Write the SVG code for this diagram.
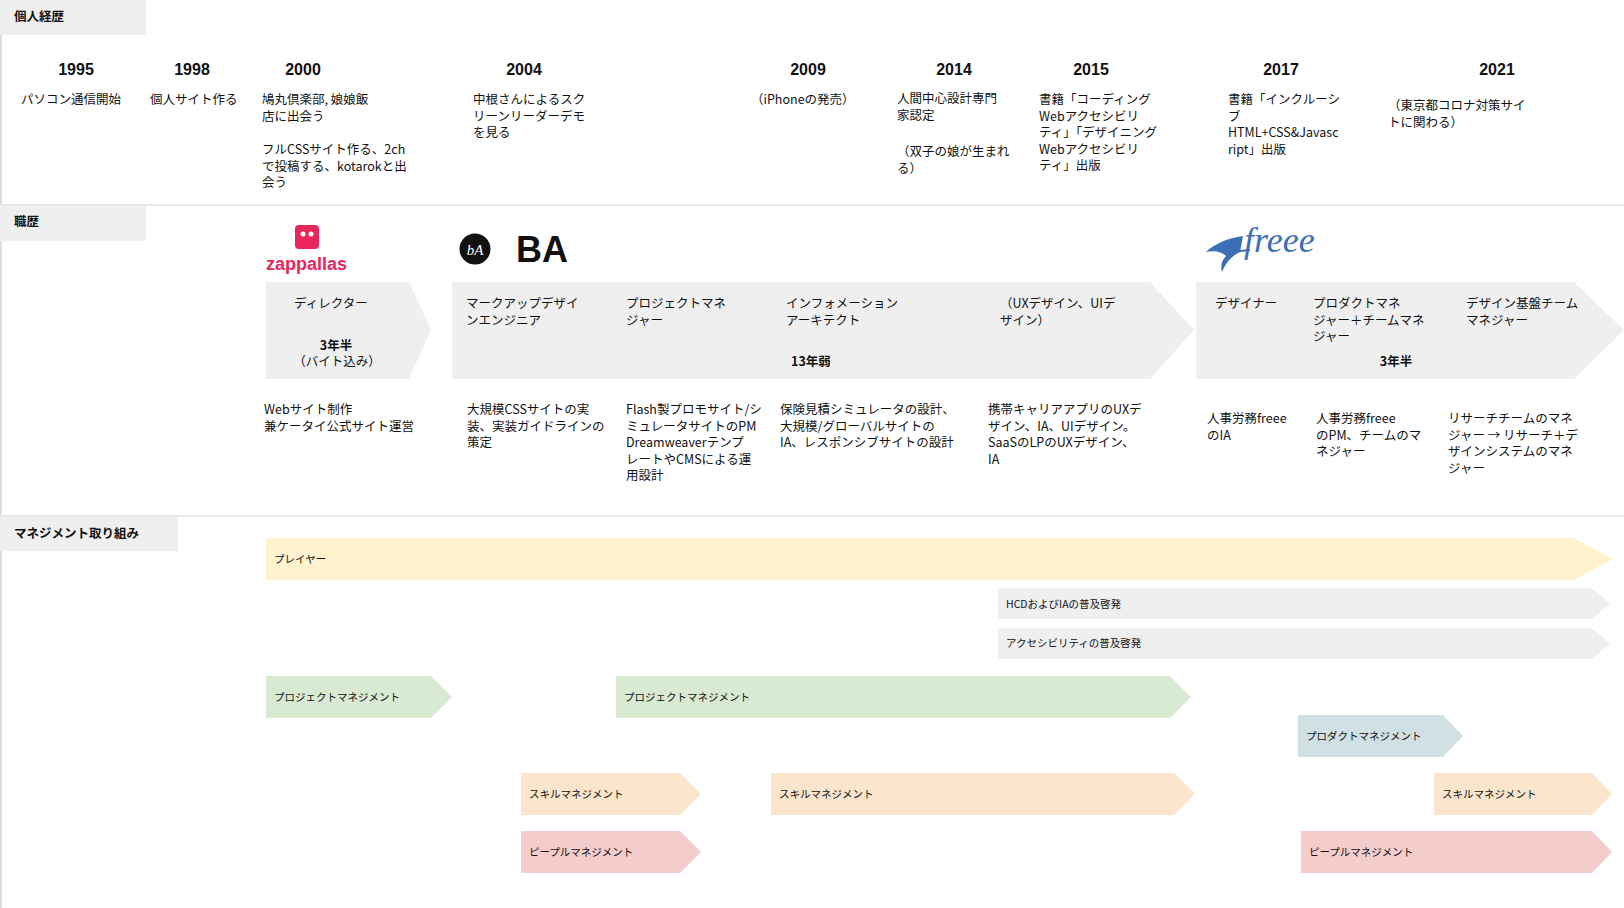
<svg xmlns="http://www.w3.org/2000/svg" width="1624" height="908" viewBox="0 0 1624 908">
<style>
.t{font-family:"Noto Sans CJK JP","Liberation Sans",sans-serif;font-size:12.5px;fill:#111}
.h{font-family:"Noto Sans CJK JP",sans-serif;font-size:12.5px;font-weight:bold;fill:#111}
.y{font-family:"Liberation Sans","Noto Sans CJK JP",sans-serif;font-size:16px;font-weight:bold;fill:#111;text-anchor:middle}
.b{font-family:"Noto Sans CJK JP","Liberation Sans",sans-serif;font-size:12.5px;font-weight:bold;fill:#111;text-anchor:middle}
.s{font-family:"Noto Sans CJK JP",sans-serif;font-size:10.5px;fill:#111}
.hdr{fill:#efefef}
.sep{stroke:#e8e8e8;stroke-width:2}
</style>
<rect width="1624" height="908" fill="#fff"/>
<line x1="1" y1="0" x2="1" y2="908" stroke="#ddd" stroke-width="2"/>
<line class="sep" x1="0" y1="205" x2="1624" y2="205"/>
<line class="sep" x1="0" y1="516" x2="1624" y2="516"/>

<g id="sec-personal">
<rect class="hdr" x="0" y="0" width="146" height="35"/>
<text class="h" x="14" y="21">個人経歴</text>
</g>
<g id="years">
<text class="y" x="76" y="75">1995</text>
<text class="y" x="192" y="75">1998</text>
<text class="y" x="303" y="75">2000</text>
<text class="y" x="524" y="75">2004</text>
<text class="y" x="808" y="75">2009</text>
<text class="y" x="954" y="75">2014</text>
<text class="y" x="1091" y="75">2015</text>
<text class="y" x="1281" y="75">2017</text>
<text class="y" x="1497" y="75">2021</text>
</g>
<g id="events">
<text class="t" x="21" y="104">パソコン通信開始</text>
<text class="t" x="150" y="104">個人サイト作る</text>
<text class="t" x="262" y="104">鳩丸倶楽部, 娘娘飯<tspan x="262" dy="16.5">店に出会う</tspan></text>
<text class="t" x="262" y="154">フルCSSサイト作る、2ch<tspan x="262" dy="16.5">で投稿する、kotarokと出</tspan><tspan x="262" dy="16.5">会う</tspan></text>
<text class="t" x="473" y="104">中根さんによるスク<tspan x="473" dy="16.5">リーンリーダーデモ</tspan><tspan x="473" dy="16.5">を見る</tspan></text>
<text class="t" x="751" y="104">（iPhoneの発売）</text>
<text class="t" x="897" y="103">人間中心設計専門<tspan x="897" dy="16.5">家認定</tspan></text>
<text class="t" x="897" y="156">（双子の娘が生まれ<tspan x="897" dy="16.5">る）</tspan></text>
<text class="t" x="1039" y="104">書籍「コーディング<tspan x="1039" dy="16.5">Webアクセシビリ</tspan><tspan x="1039" dy="16.5">ティ」「デザイニング</tspan><tspan x="1039" dy="16.5">Webアクセシビリ</tspan><tspan x="1039" dy="16.5">ティ」出版</tspan></text>
<text class="t" x="1228" y="104">書籍「インクルーシ<tspan x="1228" dy="16.5">ブ</tspan><tspan x="1228" dy="16.5">HTML+CSS&amp;Javasc</tspan><tspan x="1228" dy="16.5">ript」出版</tspan></text>
<text class="t" x="1388" y="110">（東京都コロナ対策サイ<tspan x="1388" dy="16.5">トに関わる）</tspan></text>
</g>

<g id="sec-career">
<rect class="hdr" x="0" y="206" width="146" height="35"/>
<text class="h" x="14" y="226">職歴</text>
</g>
<g id="logo-zappallas">
<rect x="295" y="225" width="24" height="24" rx="4" fill="#e8265c"/>
<circle cx="303" cy="234" r="2.5" fill="#fff"/><circle cx="311" cy="234" r="2.5" fill="#fff"/>
<text x="266" y="270" font-family="Liberation Sans,sans-serif" font-size="18" font-weight="bold" fill="#e8265c">zappallas</text>
</g>
<g id="logo-ba">
<circle cx="475" cy="249" r="15.5" fill="#111"/>
<text x="475" y="255" text-anchor="middle" font-family="Liberation Serif,serif" font-size="15" font-style="italic" fill="#fff">bA</text>
<text x="516" y="262" font-family="Liberation Sans,sans-serif" font-size="36" font-weight="bold" fill="#111">BA</text>
</g>
<g id="logo-freee">
<path d="M1243 236 C1228 238 1214 244 1206 252 C1214 250 1222 252 1226 256 C1222 260 1220 266 1222 272 C1226 262 1232 256 1240 252 Z" fill="#3d6fb6"/>
<path d="M1230 252 L1250 250" stroke="#3d6fb6" stroke-width="2"/>
<text x="1244" y="252" font-family="Liberation Serif,serif" font-size="36" font-style="italic" fill="#3d6fb6">freee</text>
</g>
<g id="job-zappallas">
<polygon points="266,282 409,282 431,330 409,379 266,379" fill="#efefef"/>
<text class="t" x="294" y="308">ディレクター</text>
<text class="b" x="336" y="350">3年半</text>
<text class="t" x="337" y="366" text-anchor="middle">（バイト込み）</text>
<text class="t" x="264" y="414">Webサイト制作<tspan x="264" dy="16.5">兼ケータイ公式サイト運営</tspan></text>
</g>
<g id="job-ba">
<polygon points="452,282 1150,282 1194,330 1150,379 452,379" fill="#efefef"/>
<text class="t" x="466" y="308">マークアップデザイ<tspan x="466" dy="16.5">ンエンジニア</tspan></text>
<text class="t" x="626" y="308">プロジェクトマネ<tspan x="626" dy="16.5">ジャー</tspan></text>
<text class="t" x="786" y="308">インフォメーション<tspan x="786" dy="16.5">アーキテクト</tspan></text>
<text class="t" x="1000" y="308">（UXデザイン、UIデ<tspan x="1000" dy="16.5">ザイン）</tspan></text>
<text class="b" x="811" y="366">13年弱</text>
<text class="t" x="467" y="414">大規模CSSサイトの実<tspan x="467" dy="16.5">装、実装ガイドラインの</tspan><tspan x="467" dy="16.5">策定</tspan></text>
<text class="t" x="626" y="414">Flash製プロモサイト/シ<tspan x="626" dy="16.5">ミュレータサイトのPM</tspan><tspan x="626" dy="16.5">Dreamweaverテンプ</tspan><tspan x="626" dy="16.5">レートやCMSによる運</tspan><tspan x="626" dy="16.5">用設計</tspan></text>
<text class="t" x="780" y="414">保険見積シミュレータの設計、<tspan x="780" dy="16.5">大規模/グローバルサイトの</tspan><tspan x="780" dy="16.5">IA、レスポンシブサイトの設計</tspan></text>
<text class="t" x="988" y="414">携帯キャリアアプリのUXデ<tspan x="988" dy="16.5">ザイン、IA、UIデザイン。</tspan><tspan x="988" dy="16.5">SaaSのLPのUXデザイン、</tspan><tspan x="988" dy="16.5">IA</tspan></text>
</g>
<g id="job-freee">
<polygon points="1196,282 1574,282 1624,330 1574,379 1196,379" fill="#efefef"/>
<text class="t" x="1215" y="308">デザイナー</text>
<text class="t" x="1313" y="308">プロダクトマネ<tspan x="1313" dy="16.5">ジャー＋チームマネ</tspan><tspan x="1313" dy="16.5">ジャー</tspan></text>
<text class="t" x="1466" y="308">デザイン基盤チーム<tspan x="1466" dy="16.5">マネジャー</tspan></text>
<text class="b" x="1396" y="366">3年半</text>
<text class="t" x="1207" y="423">人事労務freee<tspan x="1207" dy="16.5">のIA</tspan></text>
<text class="t" x="1316" y="423">人事労務freee<tspan x="1316" dy="16.5">のPM、チームのマ</tspan><tspan x="1316" dy="16.5">ネジャー</tspan></text>
<text class="t" x="1448" y="423">リサーチチームのマネ<tspan x="1448" dy="16.5">ジャー → リサーチ＋デ</tspan><tspan x="1448" dy="16.5">ザインシステムのマネ</tspan><tspan x="1448" dy="16.5">ジャー</tspan></text>
</g>

<g id="sec-mgmt">
<rect class="hdr" x="0" y="517" width="178" height="34"/>
<text class="h" x="14" y="538">マネジメント取り組み</text>
</g>
<g id="mgmt-bars">
<polygon points="266,538 1574,538 1613,559 1574,580 266,580" fill="#fff2cc"/>
<text class="s" x="274" y="563">プレイヤー</text>
<polygon points="998,588 1592,588 1610,603.5 1592,619 998,619" fill="#efefef"/>
<text class="s" x="1006" y="608">HCDおよびIAの普及啓発</text>
<polygon points="998,628 1592,628 1610,643.5 1592,659 998,659" fill="#efefef"/>
<text class="s" x="1006" y="647">アクセシビリティの普及啓発</text>
<polygon points="266,676 431,676 452,697 431,718 266,718" fill="#d9ead3"/>
<text class="s" x="274" y="701">プロジェクトマネジメント</text>
<polygon points="616,676 1170,676 1191,697 1170,718 616,718" fill="#d9ead3"/>
<text class="s" x="624" y="701">プロジェクトマネジメント</text>
<polygon points="1298,715 1443,715 1463,736 1443,757 1298,757" fill="#d0e0e3"/>
<text class="s" x="1306" y="740">プロダクトマネジメント</text>
<polygon points="521,773 680,773 701,794 680,815 521,815" fill="#fce5cd"/>
<text class="s" x="529" y="798">スキルマネジメント</text>
<polygon points="771,773 1174,773 1195,794 1174,815 771,815" fill="#fce5cd"/>
<text class="s" x="779" y="798">スキルマネジメント</text>
<polygon points="1434,773 1592,773 1612,794 1592,815 1434,815" fill="#fce5cd"/>
<text class="s" x="1442" y="798">スキルマネジメント</text>
<polygon points="521,831 680,831 701,852 680,873 521,873" fill="#f4cccc"/>
<text class="s" x="529" y="856">ピープルマネジメント</text>
<polygon points="1301,831 1592,831 1612,852 1592,873 1301,873" fill="#f4cccc"/>
<text class="s" x="1309" y="856">ピープルマネジメント</text>
</g>
<g id="connectors"/>
</svg>
